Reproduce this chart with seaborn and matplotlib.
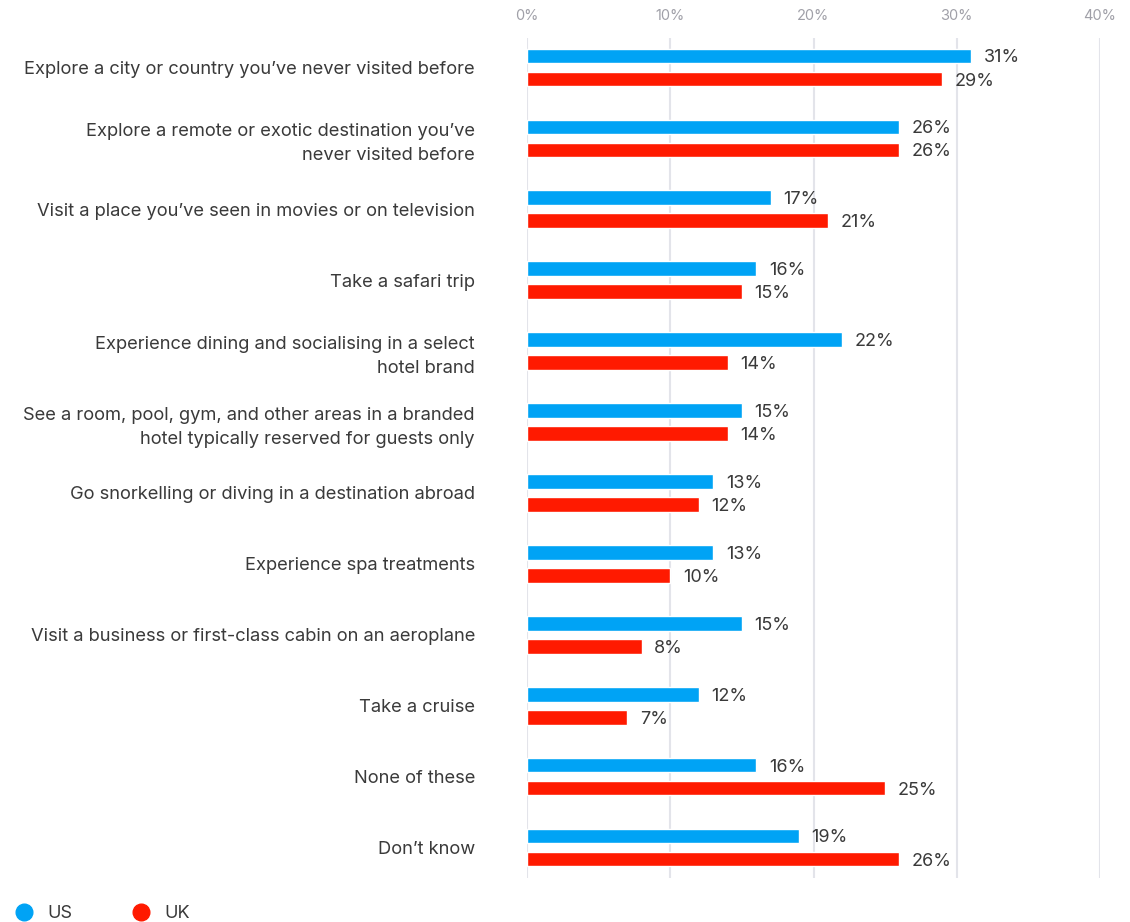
import matplotlib
matplotlib.use("Agg")
import matplotlib.pyplot as plt
import seaborn as sns
import pandas as pd
from matplotlib.lines import Line2D

categories = [
    "Explore a city or country you\u2019ve never visited before",
    "Explore a remote or exotic destination you\u2019ve\nnever visited before",
    "Visit a place you\u2019ve seen in movies or on television",
    "Take a safari trip",
    "Experience dining and socialising in a select\nhotel brand",
    "See a room, pool, gym, and other areas in a branded\nhotel typically reserved for guests only",
    "Go snorkelling or diving in a destination abroad",
    "Experience spa treatments",
    "Visit a business or first-class cabin on an aeroplane",
    "Take a cruise",
    "None of these",
    "Don\u2019t know",
]
us_values = [31, 26, 17, 16, 22, 15, 13, 13, 15, 12, 16, 19]
uk_values = [29, 26, 21, 15, 14, 14, 12, 10, 8, 7, 25, 26]
series_names = ["US", "UK"]
x_ticks = [0, 10, 20, 30, 40]

colors = {"US": "#00A3F5", "UK": "#FF1A00"}

df = pd.DataFrame({
    "category": categories * 2,
    "share": us_values + uk_values,
    "country": ["US"] * len(categories) + ["UK"] * len(categories),
})

sns.set_theme(style="white")
plt.rcParams["font.family"] = ["Inter", "DejaVu Sans"]

fig = plt.figure(figsize=(11.3, 9.22), dpi=100)
ax = fig.add_axes([527 / 1130, 1 - 878 / 922, (1100 - 527) / 1130, (878 - 38) / 922])

sns.barplot(
    data=df, y="category", x="share", hue="country", order=categories,
    hue_order=series_names, palette=colors, saturation=1, orient="h",
    width=0.65, gap=0.36, legend=False, ax=ax, zorder=3,
)

ax.set_xlim(0, 40)
ax.set_ylim(11.43, -0.416)
ax.set_xticks(x_ticks)
ax.set_xticklabels([f"{t}%" for t in x_ticks])
ax.xaxis.tick_top()
ax.tick_params(axis="x", length=0, pad=11, labelsize=10.5, labelcolor="#a0a0a8")
ax.tick_params(axis="y", length=0, pad=37.5, labelsize=13.2, labelcolor="#3a3a3a")
for lbl in ax.get_yticklabels():
    lbl.set_linespacing(1.5)
ax.set_xlabel("")
ax.set_ylabel("")
for s in ax.spines.values():
    s.set_visible(False)
ax.grid(axis="x", color="#e3e4ea", linewidth=1.5, zorder=0)
ax.grid(axis="y", visible=False)

for container in ax.containers:
    texts = ax.bar_label(container, labels=[f"{v:.0f}%" for v in container.datavalues],
                         padding=9, fontsize=13, color="#3a3a3a")
    for t in texts:
        t.set_va("center_baseline")

handles = [Line2D([], [], marker="o", linestyle="", markersize=12,
                  markerfacecolor=colors[n], markeredgecolor=colors[n]) for n in series_names]
fig.legend(handles, series_names, loc="lower left", bbox_to_anchor=(-0.009, -0.018),
           ncol=2, frameon=False, fontsize=13, handletextpad=0.3, columnspacing=2.8,
           labelcolor="#3a3a3a")

fig.savefig("out.png", dpi=100, facecolor="white")
